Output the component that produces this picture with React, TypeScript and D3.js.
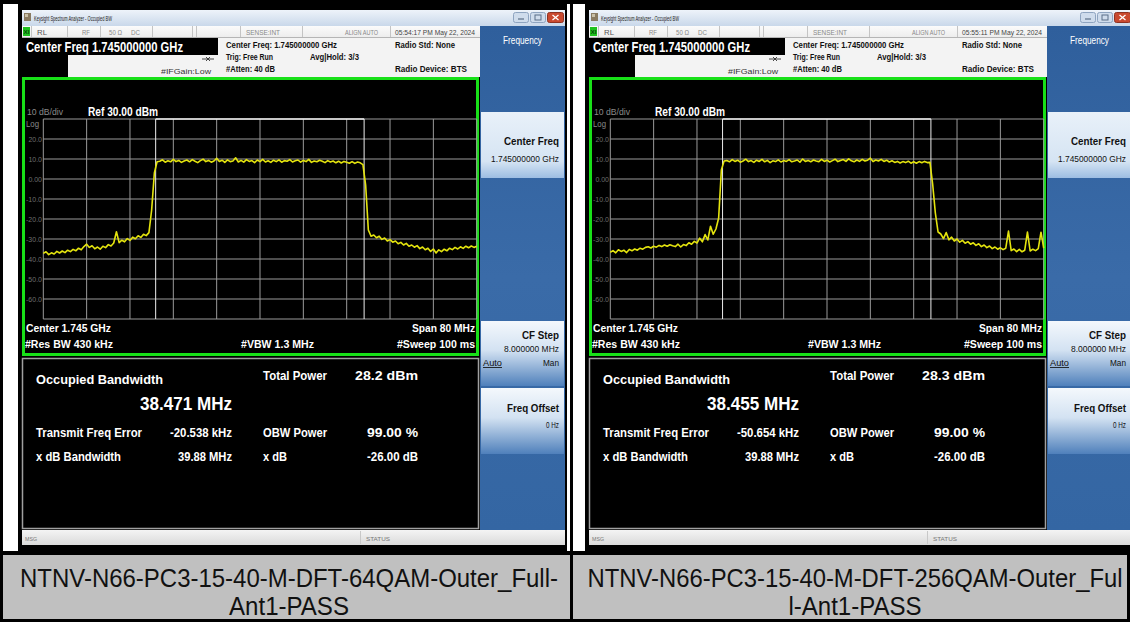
import React from 'react';
import * as d3 from 'd3';

// sweep points: 1705 MHz .. 1785 MHz, one every 0.5 MHz (161 points)
const sweepStartMHz = 1705;
const sweepStepMHz = 0.5;
const spanMHz = [1705, 1785];
const levelRange = [-70, 30];
const freqDivs = [1705, 1713, 1721, 1729, 1737, 1745, 1753, 1761, 1769, 1777, 1785];
const levelDivs = [30, 20, 10, 0, -10, -20, -30, -40, -50, -60, -70];
const levelLabels = ['20.0', '10.0', '0.00', '-10.0', '-20.0', '-30.0', '-40.0', '-50.0', '-60.0'];

// 64QAM trace (dBm)
const q64FloorLow = [
    -37.2, -36.4, -37.8, -36.9, -37.5, -36.2, -37.0, -36.0, -36.8, -35.6,
    -36.3, -35.2, -35.9, -34.6, -35.4, -33.8, -32.6, -34.2, -33.4, -34.9,
    -34.0, -35.1, -33.6, -34.3, -32.8, -33.5, -32.0, -26.4, -31.8, -30.6,
    -31.4, -29.8, -30.7, -29.1, -29.9, -28.4, -29.2, -27.6, -28.3, -26.8,
];
const q64EdgeUp = [-15.5, 3.0, 8.6];
const q64Band = [
    8.9, 9.6, 8.4, 9.1, 8.6, 9.8, 8.7, 9.3, 8.3, 9.0,
    9.5, 8.6, 9.7, 8.9, 8.2, 9.2, 9.9, 8.7, 9.3, 8.4,
    9.0, 10.3, 8.8, 9.4, 8.3, 9.6, 8.7, 9.0, 10.6, 8.5,
    9.3, 8.4, 9.7, 8.8, 9.2, 8.2, 9.5, 8.7, 9.8, 8.5,
    9.1, 8.3, 9.4, 8.7, 9.6, 8.4, 9.2, 8.9, 9.7, 8.5,
    9.1, 9.5, 8.4, 9.3, 8.7, 9.8, 8.3, 9.0, 8.6, 9.4,
    8.9, 8.2, 9.2, 8.5, 9.0, 8.1, 8.9, 8.0, 8.8, 8.4,
    7.9, 8.7, 7.8, 8.5, 8.1,
];
const q64EdgeDown = [7.2, -3.0, -25.5, -28.6];
const q64FloorHigh = [
    -28.0, -29.4, -28.6, -30.2, -29.5, -31.0, -30.3, -31.6, -31.0, -32.4,
    -31.7, -33.0, -32.2, -33.6, -33.0, -34.1, -33.3, -34.8, -34.0, -35.4,
    -34.6, -36.2, -35.0, -37.0, -35.4, -36.3, -35.1, -35.9, -34.6, -35.3,
    -34.2, -35.0, -33.9, -34.7, -33.6, -34.4, -33.5, -34.2, -33.6,
];

// 256QAM trace (dBm)
const q256FloorLow = [
    -36.6, -35.8, -36.9, -35.4, -36.2, -35.6, -36.8, -35.2, -35.9, -35.0,
    -35.6, -34.6, -35.1, -34.2, -33.9, -34.5, -33.6, -34.1, -33.2, -33.8,
    -33.0, -33.6, -32.9, -33.4, -33.8, -32.6, -34.0, -32.8, -33.3, -31.9,
    -32.6, -31.2, -32.0, -29.6, -31.4, -27.8, -30.5, -23.6, -27.6, -25.0,
];
const q256EdgeUp = [-19.5, 4.5, 9.0];
const q256Band = [
    9.2, 8.6, 9.7, 8.8, 9.4, 8.4, 9.0, 9.9, 8.7, 9.2,
    8.3, 9.4, 8.8, 9.8, 8.6, 9.3, 8.2, 9.1, 8.7, 9.6,
    8.5, 9.2, 8.8, 9.7, 8.6, 9.0, 9.5, 8.4, 10.0, 8.8,
    9.3, 8.6, 9.5, 9.0, 8.7, 9.8, 8.8, 9.4, 8.5, 9.2,
    9.9, 8.7, 9.3, 9.7, 8.8, 10.1, 9.1, 8.6, 9.5, 8.8,
    9.8, 9.0, 9.4, 10.4, 8.7, 9.5, 9.0, 9.8, 8.8, 9.4,
    8.5, 9.1, 8.3, 8.8, 8.0, 8.7, 8.2, 8.9, 7.9, 8.6,
    7.9, 8.7, 8.1, 8.8, 8.2,
];
const q256EdgeDown = [8.3, -2.5, -17.0, -26.5];
const q256FloorHigh = [
    -27.5, -29.8, -26.8, -30.4, -29.1, -31.0, -30.0, -31.6, -30.7, -32.1,
    -31.3, -32.6, -31.9, -33.2, -32.4, -33.8, -33.0, -34.3, -33.5, -34.8,
    -34.0, -35.1, -34.4, -35.3, -34.6, -26.0, -35.8, -35.0, -36.3, -35.2,
    -36.4, -35.6, -26.5, -36.0, -35.1, -35.8, -34.8, -26.6, -34.6,
];

const traces = [
    [...q64FloorLow, ...q64EdgeUp, ...q64Band, ...q64EdgeDown, ...q64FloorHigh],
    [...q256FloorLow, ...q256EdgeUp, ...q256Band, ...q256EdgeDown, ...q256FloorHigh],
];

const timestamps = ['05:54:17 PM May 22, 2024', '05:55:11 PM May 22, 2024'];
const occupiedBw = ['38.471 MHz', '38.455 MHz'];
const totalPower = ['28.2 dBm', '28.3 dBm'];
const freqError = ['-20.538 kHz', '-50.654 kHz'];
const obwEdgesMHz = [
    [1725.74, 1764.22],
    [1725.72, 1764.18],
];
const captions = [
    ['NTNV-N66-PC3-15-40-M-DFT-64QAM-Outer_Full-', 'Ant1-PASS'],
    ['NTNV-N66-PC3-15-40-M-DFT-256QAM-Outer_Ful', 'l-Ant1-PASS'],
];

const FONT = "'Liberation Sans', Arial, sans-serif";

const x = d3.scaleLinear().domain(spanMHz).range([43.3, 476.7]);
const y = d3.scaleLinear().domain(levelRange).range([319, 119]);

interface TxtProps {
    x: number;
    y: number;
    w?: number;
    size: number;
    fill?: string;
    bold?: boolean;
    underline?: boolean;
    children: React.ReactNode;
}

// text squeezed to the measured width (analyzer font is condensed)
const Txt = ({ x, y, w, size, fill = '#fff', bold = false, underline, children }: TxtProps) => (
    <text
        x={x}
        y={y}
        fontSize={size}
        fill={fill}
        fontWeight={bold ? 700 : 400}
        textLength={w}
        lengthAdjust={w ? 'spacingAndGlyphs' : undefined}
        textDecoration={underline ? 'underline' : undefined}
    >
        {children}
    </text>
);

const Panel = ({ idx, ox }: { idx: number; ox: number }) => {
    const points: [number, number][] = traces[idx].map((v, i) => [sweepStartMHz + i * sweepStepMHz, v]);
    const line = d3
        .line<[number, number]>()
        .x(d => x(d[0]))
        .y(d => y(d[1]));
    const [lo, hi] = obwEdgesMHz[idx];
    const statusSeps = [31, 67, 100, 152, 192, 196, 240, 302, 390];

    return (
        <g transform={`translate(${ox},0)`}>
            <rect x={18} y={0} width={549} height={551} fill="#000" />

            {/* title bar */}
            <rect x={22} y={10} width={543} height={16} fill="url(#titleGrad)" />
            <rect x={24} y={13} width={7} height={8} fill="#8a7b62" />
            <rect x={25} y={14} width={3} height={3} fill="#c9c0a8" />
            <Txt x={34} y={21} w={78} size={7} fill="#222">
                Keysight Spectrum Analyzer - Occupied BW
            </Txt>
            <rect x={513.5} y={12.5} width={15} height={10} rx={2} fill="#cfdcec" stroke="#8ea4c0" />
            <rect x={530.5} y={12.5} width={15} height={10} rx={2} fill="#cfdcec" stroke="#8ea4c0" />
            <rect x={547.5} y={12.5} width={16} height={10} rx={2} fill="#c9492f" stroke="#8e3222" />
            <line x1={518} x2={524} y1={19} y2={19} stroke="#5a6e88" strokeWidth={1.2} />
            <rect x={535} y={15} width={6} height={5} fill="none" stroke="#5a6e88" />
            <path d="M552.5,15 l6,5 M558.5,15 l-6,5" stroke="#fff" strokeWidth={1.3} />

            {/* status row */}
            <rect x={22} y={26} width={458} height={12} fill="url(#statusGrad)" />
            <line x1={22} x2={480} y1={37.5} y2={37.5} stroke="#b5b5b5" />
            <rect x={23} y={27} width={7} height={9} fill="#1fc21f" />
            <Txt x={23.5} y={34} w={6} size={6} fill="#064a06" bold>
                XI
            </Txt>
            {statusSeps.map(s => (
                <line key={s} x1={s + 0.5} x2={s + 0.5} y1={26} y2={37} stroke="#c4c4c4" />
            ))}
            <Txt x={37} y={35} w={10} size={7.5} fill="#555">RL</Txt>
            <Txt x={82} y={35} w={8} size={7} fill="#888">RF</Txt>
            <Txt x={109} y={35} w={13} size={7} fill="#888">50 Ω</Txt>
            <Txt x={131} y={35} w={9} size={7} fill="#888">DC</Txt>
            <Txt x={246} y={35} w={34} size={7} fill="#888">SENSE:INT</Txt>
            <Txt x={345} y={35} w={33} size={7} fill="#888">ALIGN AUTO</Txt>
            <Txt x={395} y={35} w={80} size={7} fill="#444">{timestamps[idx]}</Txt>

            {/* header */}
            <rect x={22} y={38} width={458} height={39} fill="#f3f3f3" />
            <rect x={22} y={38} width={196} height={17} fill="#000" />
            <rect x={22} y={55} width={46} height={22} fill="#000" />
            <Txt x={26} y={52} w={157} size={14} bold>Center Freq 1.745000000 GHz</Txt>
            <path d="M202,59 h12 M206,57 l2,2 l-2,2 M210,57 l-2,2 l2,2" stroke="#333" fill="none" strokeWidth={0.9} />
            <Txt x={161} y={74} w={50} size={7} fill="#333">#IFGain:Low</Txt>
            <Txt x={226} y={48} w={111} size={9} fill="#111" bold>Center Freq: 1.745000000 GHz</Txt>
            <Txt x={226} y={60} w={47} size={9} fill="#111" bold>Trig: Free Run</Txt>
            <Txt x={310} y={60} w={49} size={9} fill="#111" bold>Avg|Hold: 3/3</Txt>
            <Txt x={226} y={72} w={49} size={9} fill="#111" bold>#Atten: 40 dB</Txt>
            <Txt x={395} y={48} w={60} size={9} fill="#111" bold>Radio Std: None</Txt>
            <Txt x={395} y={72} w={72} size={9} fill="#111" bold>Radio Device: BTS</Txt>

            {/* softkey panel */}
            <rect x={480} y={26} width={85} height={504} fill="url(#blueGrad)" />
            <Txt x={503} y={44} w={39} size={10}>Frequency</Txt>
            <rect x={481} y={112} width={83} height={66} fill="url(#keyActive)" />
            <Txt x={504} y={145} w={55} size={11} fill="#111" bold>Center Freq</Txt>
            <Txt x={491} y={162} w={68} size={9} fill="#111">1.745000000 GHz</Txt>
            <rect x={481} y={321} width={83} height={65} fill="url(#keyGrad)" />
            <Txt x={522} y={339} w={37} size={11} fill="#111" bold>CF Step</Txt>
            <Txt x={504} y={352} w={55} size={8.5} fill="#111">8.000000 MHz</Txt>
            <Txt x={483} y={366} w={19} size={8.5} fill="#111" underline>Auto</Txt>
            <Txt x={543} y={366} w={16} size={8.5} fill="#111">Man</Txt>
            <rect x={481} y={388} width={83} height={66} fill="url(#keyGrad)" />
            <Txt x={507} y={412} w={52} size={11} fill="#111" bold>Freq Offset</Txt>
            <Txt x={546} y={428} w={13} size={8.5} fill="#111">0 Hz</Txt>

            {/* graph */}
            <rect x={23.5} y={78.5} width={454} height={276} fill="#000" stroke="#18e018" strokeWidth={3} />
            <Txt x={27} y={115} w={36} size={9} fill="#8a8a8a">10 dB/div</Txt>
            <Txt x={88} y={116} w={70} size={12} bold>Ref 30.00 dBm</Txt>
            <Txt x={26} y={127} w={13} size={9} fill="#8a8a8a">Log</Txt>
            {levelDivs.map(l => (
                <line key={l} x1={x(spanMHz[0])} x2={x(spanMHz[1])} y1={y(l)} y2={y(l)} stroke="#9a9a9a" strokeWidth={1} />
            ))}
            {freqDivs.map(f => (
                <line key={f} x1={x(f)} x2={x(f)} y1={y(levelRange[1])} y2={y(levelRange[0])} stroke="#9a9a9a" strokeWidth={1} />
            ))}
            {levelLabels.map((t, i) => (
                <text key={t} x={42} y={y(levelDivs[i + 1]) + 2.5} fontSize={7} fill="#6e6e6e" textAnchor="end">
                    {t}
                </text>
            ))}
            {/* OBW markers */}
            <line x1={x(lo)} x2={x(lo)} y1={y(levelRange[1])} y2={y(levelRange[0])} stroke="#ececec" />
            <line x1={x(hi)} x2={x(hi)} y1={y(levelRange[1])} y2={y(levelRange[0])} stroke="#ececec" />
            <line x1={x(lo)} x2={x(hi)} y1={y(levelRange[1])} y2={y(levelRange[1])} stroke="#f2f2f2" strokeWidth={1.4} />
            <path d={line(points) ?? ''} fill="none" stroke="#e4e40e" strokeWidth={1.6} strokeLinejoin="round" />

            <Txt x={26} y={332} w={85} size={11.5} bold>Center  1.745 GHz</Txt>
            <Txt x={25} y={348} w={88} size={11.5} bold>#Res BW  430 kHz</Txt>
            <Txt x={241} y={348} w={73} size={11.5} bold>#VBW  1.3 MHz</Txt>
            <Txt x={412} y={332} w={63} size={11.5} bold>Span 80 MHz</Txt>
            <Txt x={397} y={348} w={78} size={11.5} bold>#Sweep  100 ms</Txt>

            {/* measurement results */}
            <rect x={22.5} y={358.5} width={456} height={170} fill="#000" stroke="#a0a0a0" strokeWidth={1.5} />
            <Txt x={36} y={384} w={127} size={13.5} bold>Occupied Bandwidth</Txt>
            <Txt x={140} y={410} w={92} size={19} bold>{occupiedBw[idx]}</Txt>
            <Txt x={263} y={380} w={64} size={12} bold>Total Power</Txt>
            <Txt x={355} y={380} w={63} size={12} bold>{totalPower[idx]}</Txt>
            <Txt x={36} y={437} w={106} size={12} bold>Transmit Freq Error</Txt>
            <Txt x={170} y={437} w={62} size={12} bold>{freqError[idx]}</Txt>
            <Txt x={263} y={437} w={64} size={12} bold>OBW Power</Txt>
            <Txt x={367} y={437} w={51} size={12} bold>99.00 %</Txt>
            <Txt x={36} y={461} w={85} size={12} bold>x dB Bandwidth</Txt>
            <Txt x={178} y={461} w={54} size={12} bold>39.88 MHz</Txt>
            <Txt x={263} y={461} w={24} size={12} bold>x dB</Txt>
            <Txt x={367} y={461} w={51} size={12} bold>-26.00 dB</Txt>

            {/* message bar */}
            <rect x={22} y={530} width={543} height={15} fill="url(#msgGrad)" />
            <line x1={360.5} x2={360.5} y1={531} y2={544} stroke="#c8c8c8" />
            <Txt x={25} y={541} w={12} size={6} fill="#777">MSG</Txt>
            <Txt x={366} y={541} w={24} size={6} fill="#777">STATUS</Txt>
        </g>
    );
};

const captionWidths = [
    [538, 120],
    [535, 133],
];

const Caption = ({ idx, cx }: { idx: number; cx: number }) => (
    <g fontSize={25} fill="#111">
        <text x={cx - captionWidths[idx][0] / 2} y={587} textLength={captionWidths[idx][0]} lengthAdjust="spacingAndGlyphs">
            {captions[idx][0]}
        </text>
        <text x={cx - captionWidths[idx][1] / 2} y={615} textLength={captionWidths[idx][1]} lengthAdjust="spacingAndGlyphs">
            {captions[idx][1]}
        </text>
    </g>
);

const App = () => (
    <div style={{ position: 'absolute', left: 0, top: 0 }}>
        <svg width={1130} height={622} fontFamily={FONT} style={{ display: 'block' }}>
            <defs>
                <linearGradient id="titleGrad" x1="0" x2="0" y1="0" y2="1">
                    <stop offset="0" stopColor="#eef3fa" />
                    <stop offset="1" stopColor="#c9d8ea" />
                </linearGradient>
                <linearGradient id="statusGrad" x1="0" x2="0" y1="0" y2="1">
                    <stop offset="0" stopColor="#fbfbfb" />
                    <stop offset="1" stopColor="#ececec" />
                </linearGradient>
                <linearGradient id="blueGrad" x1="0" x2="0" y1="0" y2="1">
                    <stop offset="0" stopColor="#2f5f9c" />
                    <stop offset="0.5" stopColor="#3a6ba8" />
                    <stop offset="1" stopColor="#3466a3" />
                </linearGradient>
                <linearGradient id="keyGrad" x1="0" x2="0" y1="0" y2="1">
                    <stop offset="0" stopColor="#f4f8fc" />
                    <stop offset="0.45" stopColor="#d3e2f2" />
                    <stop offset="1" stopColor="#4f80bb" />
                </linearGradient>
                <linearGradient id="keyActive" x1="0" x2="0" y1="0" y2="1">
                    <stop offset="0" stopColor="#e9f1f9" />
                    <stop offset="0.75" stopColor="#d5e4f3" />
                    <stop offset="1" stopColor="#9dbde2" />
                </linearGradient>
                <linearGradient id="msgGrad" x1="0" x2="0" y1="0" y2="1">
                    <stop offset="0" stopColor="#f4f4f4" />
                    <stop offset="1" stopColor="#dadada" />
                </linearGradient>
            </defs>

            <rect x={0} y={0} width={1130} height={622} fill="#fff" />
            <Panel idx={0} ox={0} />
            <Panel idx={1} ox={567} />

            {/* table borders and caption row */}
            <rect x={0} y={0} width={1130} height={4} fill="#000" />
            <rect x={0} y={0} width={3} height={622} fill="#000" />
            <rect x={570} y={0} width={3} height={622} fill="#000" />
            <rect x={1127} y={551} width={3} height={71} fill="#000" />
            <rect x={0} y={551} width={1130} height={4} fill="#000" />
            <rect x={3} y={555} width={567} height={64} fill="#c0c0c0" />
            <rect x={573} y={555} width={554} height={64} fill="#c0c0c0" />
            <rect x={0} y={619} width={1130} height={3} fill="#000" />
            <Caption idx={0} cx={289} />
            <Caption idx={1} cx={855} />
        </svg>
    </div>
);

export default App;
